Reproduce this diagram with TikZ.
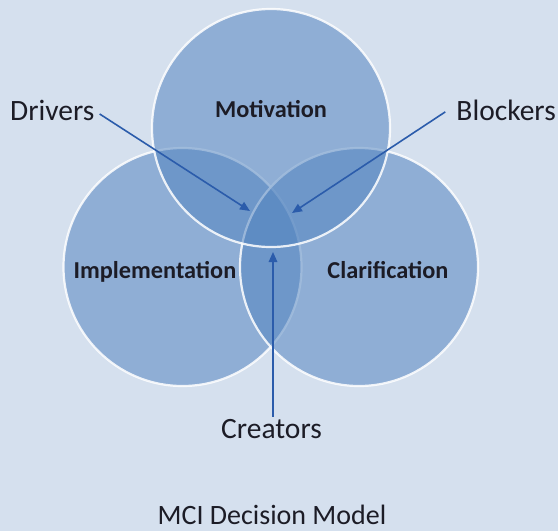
\documentclass[tikz,border=0pt]{standalone}
\usepackage{fontspec}
\setmainfont{Carlito}
\usetikzlibrary{arrows.meta}
\definecolor{bgc}{RGB}{213,224,238}
\definecolor{cfill}{RGB}{81,131,191}
\definecolor{arrc}{RGB}{43,92,171}
\definecolor{txtc}{RGB}{28,28,38}
\tikzset{
  venn/.style={circle, inner sep=0pt, minimum size=238pt, fill=cfill, fill opacity=0.53,
    draw=white, draw opacity=0.85, line width=2.2pt},
  lbl/.style={inner sep=0pt, text=txtc, font=\fontsize{29.5}{32}\selectfont},
  clbl/.style={inner sep=0pt, text=txtc, font=\fontsize{24.3}{26}\selectfont\bfseries},
  ttl/.style={inner sep=0pt, text=txtc, font=\fontsize{28}{30}\selectfont},
  arr/.style={draw=arrc, line width=1.6pt, -{Triangle[length=10pt,width=8.5pt]}}
}
\begin{document}
\begin{tikzpicture}[x=1pt,y=-1pt]
\useasboundingbox (0,0) rectangle (558,531);
\fill[bgc] (0,0) rectangle (558,531);
% circles
\node[venn] (impl) at (182.5,267) {};
\node[venn] (clar) at (359,267) {};
\node[venn] (moti) at (271,128) {};
% circle labels
\node[clbl, anchor=base] (tmoti) at (271,117) {Motivation};
\node[clbl, anchor=base] (timpl) at (155,278) {Implementation};
\node[clbl, anchor=base] (tclar) at (388,278) {Clarification};
% outside labels
\node[lbl, anchor=base west] (drivers) at (10,120) {Drivers};
\node[lbl, anchor=base east] (blockers) at (556,120) {Blockers};
\node[lbl, anchor=base] (creators) at (271.5,438) {Creators};
\node[ttl, anchor=base] (title) at (272,524) {MCI Decision Model};
% arrow tips
\coordinate (dtip) at (250,211);
\coordinate (btip) at (292,213);
\coordinate (ctip) at (273,252);
\draw[arr] ([xshift=5pt,yshift=-4pt]drivers.east) -- (dtip);
\draw[arr] ([xshift=-11pt,yshift=-2pt]blockers.west) -- (btip);
\draw[arr] ([yshift=2pt]ctip |- creators.north) -- (ctip);
\end{tikzpicture}
\end{document}
